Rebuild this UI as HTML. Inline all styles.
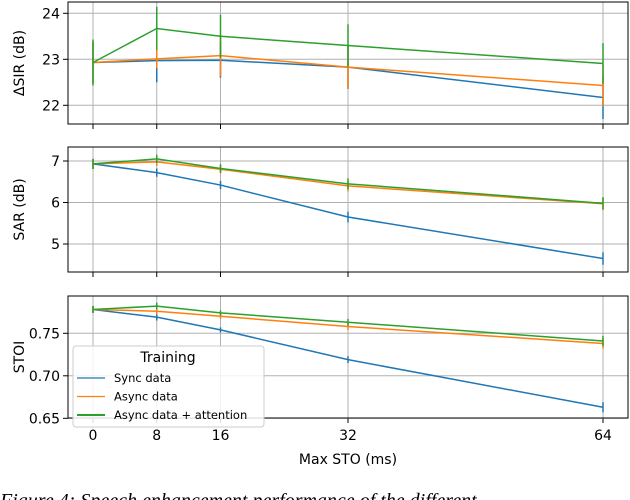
<!DOCTYPE html>
<html><head><meta charset="utf-8">
<style>
html,body{margin:0;padding:0;width:630px;height:500px;overflow:hidden;background:#fff}
svg text{font-family:"DejaVu Sans","Liberation Sans",sans-serif;fill:#000}
</style></head>
<body>
<svg id="chart" width="630" height="500" xmlns="http://www.w3.org/2000/svg"></svg>
<script>
const xValues = [0, 8, 16, 32, 64];
const xTickLabels = ["0", "8", "16", "32", "64"];
const seriesNames = ["Sync data", "Async data", "Async data + attention"];
const seriesColors = ["#1f77b4", "#ff7f0e", "#2ca02c"];

const sirSync = [22.93, 22.97, 22.98, 22.83, 22.17];
const sirAsync = [22.93, 23.01, 23.08, 22.83, 22.43];
const sirAttn = [22.93, 23.67, 23.50, 23.30, 22.91];
const sirSyncErr = [0.45, 0.47, 0.38, 0.47, 0.47];
const sirAsyncErr = [0.45, 0.2, 0.45, 0.46, 0.45];
const sirAttnErr = [0.5, 0.47, 0.47, 0.46, 0.44];
const sirTicks = [22, 23, 24];

const sarSync = [6.93, 6.72, 6.42, 5.65, 4.65];
const sarAsync = [6.93, 6.98, 6.80, 6.40, 5.97];
const sarAttn = [6.93, 7.05, 6.82, 6.45, 5.98];
const sarErr = [0.12, 0.1, 0.1, 0.13, 0.15];
const sarTicks = [5, 6, 7];

const stoiSync = [0.778, 0.769, 0.754, 0.719, 0.663];
const stoiAsync = [0.778, 0.776, 0.770, 0.758, 0.738];
const stoiAttn = [0.778, 0.782, 0.774, 0.763, 0.741];
const stoiErr = [0.004, 0.004, 0.003, 0.004, 0.006];
const stoiTicks = [0.65, 0.70, 0.75];
const stoiTickLabels = ["0.65", "0.70", "0.75"];

const NS = "http://www.w3.org/2000/svg";
const svg = document.getElementById("chart");
const L = 68, R = 628;
function xs(v){ return 93 + v * (510 / 64); }
function mk(tag, attrs, parent){
  const e = document.createElementNS(NS, tag);
  for (const k in attrs) e.setAttribute(k, attrs[k]);
  (parent || svg).appendChild(e);
  return e;
}

function panel(name, top, bottom, yAt, ticks, tickLabels, ylabel, series, errs, showX){
  const g = mk("g", {});
  
  
  const ys = v => yAt[0][1] + (v - yAt[0][0]) * (yAt[1][1] - yAt[0][1]) / (yAt[1][0] - yAt[0][0]);
  xValues.forEach(v => {
    const l = mk("line", {x1: xs(v), x2: xs(v), y1: top, y2: bottom, stroke: "#b0b0b0", "stroke-width": 1}, g);
    
    
    const t = mk("line", {x1: xs(v), x2: xs(v), y1: bottom, y2: bottom + 5, stroke: "#000", "stroke-width": 1}, g);
    
    
  });
  ticks.forEach((v, i) => {
    const y = ys(v);
    const l = mk("line", {x1: L, x2: R, y1: y, y2: y, stroke: "#b0b0b0", "stroke-width": 1}, g);
    
    
    const t = mk("line", {x1: L - 5, x2: L, y1: y, y2: y, stroke: "#000", "stroke-width": 1}, g);
    
    
    const tx = mk("text", {x: L - 8, y: y + 5, "text-anchor": "end", "font-size": 14}, g);
    tx.textContent = tickLabels[i];
    
    
  });
  const yl = mk("text", {x: 0, y: 0, "text-anchor": "middle", "font-size": 14,
    transform: `translate(24,${(top + bottom) / 2}) rotate(-90)`}, g);
  yl.textContent = ylabel;
  
  
  series.forEach((vals, si) => {
    const pts = vals.map((v, i) => xs(xValues[i]) + "," + ys(v)).join(" ");
    const pl = mk("polyline", {points: pts, fill: "none", stroke: seriesColors[si], "stroke-width": 1.5}, g);
    
    
    vals.forEach((v, i) => {
      const e = errs[si][i];
      const eb = mk("line", {x1: xs(xValues[i]), x2: xs(xValues[i]), y1: ys(v - e), y2: ys(v + e), stroke: seriesColors[si], "stroke-width": 1.5}, g);
      
      
    });
  });
  const fr = mk("rect", {x: L, y: top, width: R - L, height: bottom - top, fill: "none", stroke: "#000", "stroke-width": 1}, g);
  
  
  if (showX){
    xValues.forEach((v, i) => {
      const t = mk("text", {x: xs(v), y: bottom + 22, "text-anchor": "middle", "font-size": 14}, g);
      t.textContent = xTickLabels[i];
      
      
    });
  }
  return ys;
}

panel("delta-sir", 2, 124, [[22, 105.3], [24, 13.3]], sirTicks, sirTicks.map(String), "ΔSIR (dB)",
  [sirSync, sirAsync, sirAttn], [sirSyncErr, sirAsyncErr, sirAttnErr], false);
panel("sar", 147, 272, [[5, 244], [7, 161]], sarTicks, sarTicks.map(String), "SAR (dB)",
  [sarSync, sarAsync, sarAttn], [sarErr, sarErr, sarErr], false);
panel("stoi", 296, 418, [[0.65, 418.3], [0.75, 333.3]], stoiTicks, stoiTickLabels, "STOI",
  [stoiSync, stoiAsync, stoiAttn], [stoiErr, stoiErr, stoiErr], true);

const xl = mk("text", {x: 348, y: 464, "text-anchor": "middle", "font-size": 14});
xl.textContent = "Max STO (ms)";



const lg = mk("g", {});


const lb = mk("rect", {x: 73, y: 346, width: 191, height: 81, rx: 3, fill: "rgba(255,255,255,0.85)", stroke: "#ccc", "stroke-width": 1}, lg);


const lt = mk("text", {x: 168, y: 362, "text-anchor": "middle", "font-size": 14}, lg);
lt.textContent = "Training";


seriesNames.forEach((n, i) => {
  const y = 378 + i * 18.5;
  const ln = mk("line", {x1: 77, x2: 105, y1: y, y2: y, stroke: seriesColors[i], "stroke-width": i === 2 ? 2 : 1.2}, lg);
  
  
  const t = mk("text", {x: 114, y: y + 4, "font-size": 11.5}, lg);
  t.textContent = n;
  
  
});

const cap = mk("text", {x: 0, y: 507, "font-size": 20, "font-style": "italic", style: "font-family:'Liberation Serif',serif"});
cap.textContent = "Figure 4: Speech enhancement performance of the different";


</script>
</body></html>
